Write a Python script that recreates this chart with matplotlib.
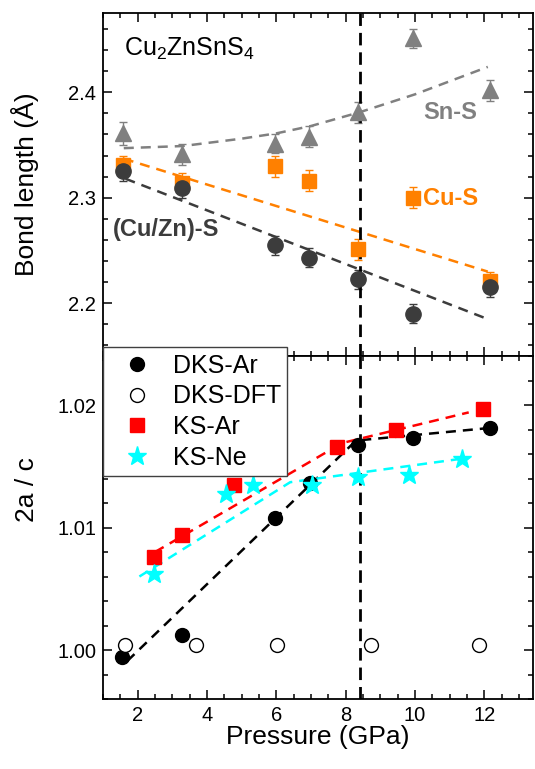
# coding: utf-8
import matplotlib
matplotlib.use('Agg')
import matplotlib.pyplot as plt
from matplotlib import gridspec
from matplotlib.ticker import MultipleLocator

plt.rcParams['font.family'] = ['Liberation Sans', 'DejaVu Sans']
plt.rcParams['mathtext.fontset'] = 'custom'
plt.rcParams['mathtext.rm'] = 'Liberation Sans'
plt.rcParams['mathtext.it'] = 'Liberation Sans:italic'

# ---- data: bond lengths (top panel)
p_bond = [1.58, 3.28, 5.95, 6.95, 8.37, 9.95, 12.16]
sn_s = [2.361, 2.341, 2.351, 2.358, 2.381, 2.451, 2.402]
sn_s_err = [0.011, 0.010, 0.009, 0.010, 0.010, 0.009, 0.010]
cu_s = [2.331, 2.314, 2.330, 2.316, 2.251, 2.300, 2.221]
cu_s_err = [0.009, 0.009, 0.010, 0.010, 0.010, 0.010, 0.009]
cuzn_s = [2.325, 2.309, 2.255, 2.243, 2.223, 2.190, 2.215]
cuzn_s_err = [0.009, 0.009, 0.009, 0.009, 0.009, 0.009, 0.009]

sn_fit_p = [1.6, 3.3, 5.0, 6.0, 7.0, 8.4, 10.0, 12.1]
sn_fit = [2.347, 2.349, 2.356, 2.361, 2.368, 2.381, 2.398, 2.424]
cu_fit_p = [1.6, 12.1]
cu_fit = [2.337, 2.230]
cuzn_fit_p = [1.65, 12.1]
cuzn_fit = [2.318, 2.185]

# ---- data: 2a/c (bottom panel)
p_dks_ar = [1.55, 3.28, 5.96, 6.96, 8.37, 9.95, 12.15]
dks_ar = [0.9994, 1.0012, 1.0108, 1.0136, 1.0167, 1.0173, 1.0181]
p_dks_dft = [1.64, 3.68, 6.03, 8.73, 11.85]
dks_dft = [1.0004, 1.0004, 1.0004, 1.0004, 1.0004]
p_ks_ar = [2.48, 3.28, 4.77, 7.76, 9.45, 11.95]
ks_ar = [1.0076, 1.0094, 1.0135, 1.0166, 1.0180, 1.0197]
p_ks_ne = [2.48, 4.55, 5.32, 7.02, 8.35, 9.83, 11.35]
ks_ne = [1.0062, 1.0127, 1.0135, 1.0135, 1.0141, 1.0143, 1.0156]

dks_ar_fit_p = [1.7, 8.3, 12.05]
dks_ar_fit = [0.9991, 1.0171, 1.0181]
ks_ar_fit_p = [2.5, 7.9, 11.55]
ks_ar_fit = [1.0080, 1.0169, 1.0194]
ks_ne_fit_p = [2.05, 6.4, 11.3]
ks_ne_fit = [1.0060, 1.0137, 1.0156]

p_transition = 8.42

c_sn = '#808080'
c_cu = '#FF8000'
c_cuzn = '#3C3C3C'
c_cyan = '#00FFFF'

fig = plt.figure(figsize=(5.35, 7.69), dpi=100)
subPlots = gridspec.GridSpec(2, 1, left=0.1925, right=0.996, top=0.983,
                             bottom=0.091, hspace=0.0)

fitStyle = dict(lw=1.8, dashes=(4, 2.8))

#------------------
ax0 = plt.subplot(subPlots[0])

ax0.plot(sn_fit_p, sn_fit, color=c_sn, **fitStyle)
ax0.plot(cu_fit_p, cu_fit, color=c_cu, **fitStyle)
ax0.plot(cuzn_fit_p, cuzn_fit, color=c_cuzn, **fitStyle)

ax0.errorbar(p_bond, sn_s, yerr=sn_s_err, fmt='^', color=c_sn, ms=11,
             capsize=3, elinewidth=1, capthick=1)
ax0.errorbar(p_bond, cu_s, yerr=cu_s_err, fmt='s', color=c_cu, ms=9.5,
             capsize=3, elinewidth=1, capthick=1)
ax0.errorbar(p_bond, cuzn_s, yerr=cuzn_s_err, fmt='o', color=c_cuzn, ms=11,
             capsize=3, elinewidth=1, capthick=1)

ax0.axvline(p_transition, color='k', lw=2, dashes=(4.5, 2.5))

ax0.text(1.62, 2.4346, 'Cu$_2$ZnSnS$_4$', fontsize=18, ha='left', va='baseline')
ax0.text(10.24, 2.381, 'Sn-S', fontsize=17, fontweight='bold', color=c_sn,
         ha='left', va='center')
ax0.text(10.24, 2.2997, 'Cu-S', fontsize=17, fontweight='bold', color=c_cu,
         ha='left', va='center')
ax0.text(1.28, 2.2695, '(Cu/Zn)-S', fontsize=17, fontweight='bold', color=c_cuzn,
         ha='left', va='center')

ax0.set_ylim(2.15, 2.475)
ax0.set_ylabel(u'Bond length (Å)', fontsize=19)
ax0.yaxis.set_major_locator(MultipleLocator(0.1))
ax0.yaxis.set_minor_locator(MultipleLocator(0.02))
ax0.tick_params(labelbottom=False)

#------------------
ax1 = plt.subplot(subPlots[1], sharex=ax0)
ax1.set_zorder(3)

ax1.plot(dks_ar_fit_p, dks_ar_fit, color='k', **fitStyle)
ax1.plot(ks_ar_fit_p, ks_ar_fit, color='#FF0000', **fitStyle)
ax1.plot(ks_ne_fit_p, ks_ne_fit, color=c_cyan, **fitStyle)

ax1.axvline(p_transition, color='k', lw=2, dashes=(4.5, 2.5))

ax1.plot(p_dks_ar, dks_ar, 'o', color='k', ms=10, label='DKS-Ar')
ax1.plot(p_dks_dft, dks_dft, 'o', mfc='white', mec='k', mew=1, ms=10,
         label='DKS-DFT')
ax1.plot(p_ks_ar, ks_ar, 's', color='#FF0000', ms=9.5, label='KS-Ar')
ax1.plot(p_ks_ne, ks_ne, '*', color=c_cyan, ms=14, label='KS-Ne')

ax1.set_ylim(0.996, 1.024)
ax1.set_ylabel('2a / c', fontsize=19)
ax1.yaxis.set_major_locator(MultipleLocator(0.01))
ax1.yaxis.set_minor_locator(MultipleLocator(0.002))
ax1.yaxis.set_major_formatter(matplotlib.ticker.FormatStrFormatter('%.2f'))
ax1.set_xlabel('Pressure (GPa)', fontsize=19, labelpad=0)

ax1.set_xlim(1.0, 13.4)
ax1.xaxis.set_major_locator(MultipleLocator(2))
ax1.xaxis.set_minor_locator(MultipleLocator(0.5))

leg = ax1.legend(loc='upper left', bbox_to_anchor=(0.1925, 0.5484),
                 bbox_transform=fig.transFigure, borderaxespad=0, fontsize=18,
                 fancybox=False, framealpha=1, edgecolor='#404040',
                 borderpad=0.25, handlelength=2.2, handletextpad=0.35,
                 labelspacing=0.27, numpoints=1)
leg.get_frame().set_linewidth(1.0)

#------------------
for ax in fig.get_axes():
    for sp in ax.spines.values():
        sp.set_linewidth(1.3)
    ax.tick_params(which='both', direction='in', top=True, right=True,
                   labelsize=14.5, pad=5)
    ax.tick_params(which='major', length=6.5, width=1.1)
    ax.tick_params(which='minor', length=3.5, width=1.1)

ax0.yaxis.set_label_coords(-0.15, 0.5)
ax1.yaxis.set_label_coords(-0.15, 0.61)

plt.savefig('out.png', dpi=100)
